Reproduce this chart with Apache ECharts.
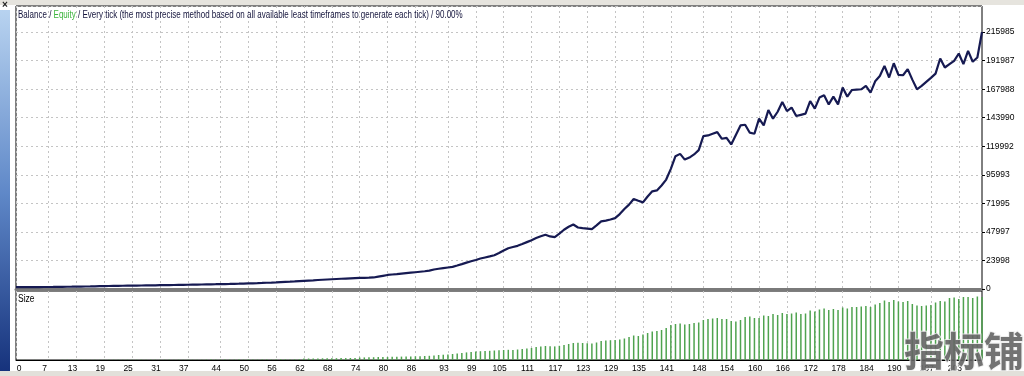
<!DOCTYPE html>
<html>
<head>
<meta charset="utf-8">
<script src="https://cdn.jsdelivr.net/npm/echarts@6/dist/echarts.min.js"></script>
<style>
  html, body { margin: 0; padding: 0; background: #fff; }
  #chart { width: 1024px; height: 376px; }
</style>
</head>
<body>
<div id="chart"></div>
<script>
// balance after each trade
const balance = [
  1500, 1530, 1560, 1580, 1610, 1650, 1680, 1700, 1740, 1790,
  1830, 1880, 1920, 1980, 2050, 2120, 2200, 2290, 2380, 2450,
  2520, 2600, 2660, 2720, 2790, 2850, 2900, 2960, 3010, 3060,
  3120, 3180, 3240, 3300, 3360, 3420, 3480, 3560, 3650, 3720,
  3800, 3870, 3950, 4020, 4100, 4180, 4260, 4350, 4450, 4560,
  4680, 4800, 4930, 5080, 5250, 5420, 5600, 5800, 6000, 6200,
  6420, 6650, 6880, 7100, 7320, 7550, 7780, 8000, 8200, 8400,
  8600, 8800, 9000, 9150, 9300, 9420, 9550, 9700, 10400, 11100,
  11800, 12200, 12500, 12900, 13300, 13700, 14100, 14500, 14900, 15400,
  16400, 17000, 17600, 18100, 18600, 19700, 20900, 22200, 23300, 24400,
  25600, 26500, 27400, 28400, 30200, 32300, 34300, 35300, 36300, 37800,
  39400, 41000, 42800, 44300, 45600, 44200, 43600, 46500, 49800, 52300,
  54200, 51700, 51200, 50800, 50400, 53500, 56800, 57500, 58400, 59600,
  63000, 67200, 70900, 75700, 74200, 72800, 77800, 82100, 82900, 87000,
  92000, 101000, 111600, 113600, 108800, 110500, 113100, 116700, 128500, 129100,
  130500, 131900, 126300, 127100, 121500, 129500, 137500, 138100, 131400, 130500,
  143200, 137500, 150400, 143200, 149000, 157200, 149600, 152500, 145400, 146400,
  147400, 158000, 151600, 160900, 162800, 155200, 161700, 155200, 169300, 161700,
  167300, 167600, 167900, 170700, 165100, 174600, 179100, 187600, 177800, 189800,
  180000, 179700, 184800, 176000, 167900, 170700, 174100, 177500, 181100, 193800,
  186200, 189000, 191800, 198000, 189000, 200200, 191000, 194600, 215985
];

// lot size of each trade
const sizes = [
  0.01, 0.01, 0.01, 0.01, 0.01, 0.01, 0.01, 0.01, 0.01, 0.01,
  0.02, 0.02, 0.02, 0.02, 0.02, 0.02, 0.02, 0.02, 0.02, 0.02, 0.02,
  0.03, 0.03, 0.03, 0.03, 0.03, 0.03, 0.03, 0.03, 0.03, 0.03,
  0.03, 0.03, 0.03, 0.03, 0.03, 0.03, 0.03, 0.03, 0.03, 0.03,
  0.04, 0.04, 0.04, 0.04, 0.04, 0.04, 0.04, 0.04, 0.04, 0.04, 0.04, 0.04, 0.04, 0.04, 0.04,
  0.06, 0.06, 0.06, 0.06, 0.06, 0.06,
  0.15, 0.15, 0.16, 0.16, 0.17, 0.17, 0.18, 0.18, 0.19, 0.19, 0.2, 0.2,
  0.25, 0.26, 0.27, 0.28, 0.29, 0.3, 0.3, 0.32, 0.33, 0.34, 0.35, 0.36, 0.37, 0.38, 0.4, 0.42,
  0.46, 0.5, 0.53, 0.56, 0.6, 0.64, 0.7,
  0.76, 0.8, 0.84, 0.88, 0.9, 0.92, 0.95,
  0.98, 1.0, 1.02, 1.0, 1.05, 1.1, 1.15, 1.2,
  1.3, 1.35, 1.4, 1.38, 1.36, 1.42, 1.5,
  1.6, 1.7, 1.72, 1.7, 1.68, 1.66, 1.75,
  1.9, 1.95, 1.98, 2.0, 2.05, 2.15,
  2.3, 2.45, 2.4,
  2.55, 2.7, 2.85, 2.9, 3.0,
  3.2, 3.5, 3.6, 3.65, 3.55, 3.6, 3.7, 3.75,
  4.0, 4.1, 4.15, 4.2, 4.1, 4.1,
  3.9, 3.85, 4.0,
  4.3, 4.35, 4.2, 4.2, 4.45,
  4.4, 4.6, 4.5, 4.7,
  4.6, 4.65, 4.75, 4.6, 4.65,
  4.95, 4.85, 5.05, 5.15, 5.0,
  5.1, 5.0, 5.25, 5.15, 5.3, 5.3, 5.35, 5.4,
  5.3, 5.55, 5.7,
  5.95, 5.8, 6.0, 5.85, 5.8, 5.9,
  5.6, 5.45, 5.4, 5.45, 5.5,
  5.75, 5.9,
  5.85, 6.2, 6.25, 6.1, 6.3, 6.3, 6.2, 6.35, 6.3
];

const trades = balance.map((v, i) => String(i));
const xTickLabels = [0, 7, 13, 19, 25, 31, 37, 44, 50, 56, 62, 68, 74, 80, 86, 93, 99, 105, 111, 117, 123, 129, 135, 141, 148, 154, 160, 166, 172, 178, 184, 190, 197, 203];
const yTickLabels = ['0', '23998', '47997', '71995', '95993', '119992', '143990', '167988', '191987', '215985'];

const tickSet = new Set(xTickLabels);
const showTick = (idx) => tickSet.has(idx);
const font = "'Liberation Sans', sans-serif";
const gridDash = { color: '#c4c4c4', type: [2, 3], width: 1 };

let chart = echarts.init(document.getElementById('chart'), null, { renderer: 'canvas' });

let option = {
  animation: false,
  backgroundColor: '#fff',
  grid: [
    { left: 16, right: 42, top: 6, height: 283, show: true, borderColor: '#000', borderWidth: 1, backgroundColor: '#fff' },
    { left: 16, right: 42, top: 291, height: 69, show: true, borderColor: '#000', borderWidth: 1, backgroundColor: '#fff' }
  ],
  xAxis: [
    {
      type: 'category', gridIndex: 0, data: trades, boundaryGap: false,
      axisLine: { lineStyle: { color: '#7a7a7a', width: 3 } },
      axisTick: { show: false },
      axisLabel: { show: false },
      splitLine: { show: true, interval: showTick, lineStyle: gridDash }
    },
    {
      type: 'category', gridIndex: 1, data: trades, boundaryGap: false,
      axisLine: { lineStyle: { color: '#000', width: 1 } },
      axisTick: { show: false },
      axisLabel: {
        interval: showTick,
        fontFamily: font, fontSize: 8.5, color: '#000', margin: 4,
        padding: [0, 8, 0, 0],
        formatter: (v) => v === '0' ? '{f|0}' : v,
        rich: { f: { padding: [0, 0, 0, 14], fontFamily: font, fontSize: 8.5, color: '#000' } }
      },
      splitLine: { show: true, interval: showTick, lineStyle: gridDash }
    }
  ],
  yAxis: [
    {
      type: 'value', gridIndex: 0, position: 'right',
      min: 0, max: 237900, interval: 215985 / 9,
      axisLine: { show: false },
      axisTick: { show: true, length: 3, lineStyle: { color: '#000' } },
      axisLabel: {
        showMaxLabel: false, margin: 4,
        fontFamily: font, fontSize: 8.5, color: '#000',
        formatter: (v, i) => yTickLabels[i] || ''
      },
      splitLine: { show: true, lineStyle: gridDash }
    },
    {
      type: 'value', gridIndex: 1, position: 'right',
      min: 0, max: 6.9,
      axisLine: { show: false }, axisTick: { show: false },
      axisLabel: { show: false }, splitLine: { show: false }
    }
  ],
  series: [
    {
      name: 'Balance', type: 'line', xAxisIndex: 0, yAxisIndex: 0,
      data: balance, symbol: 'none',
      lineStyle: { color: '#161a52', width: 2.2 },
      z: 5
    },
    {
      name: 'Size', type: 'bar', xAxisIndex: 1, yAxisIndex: 1,
      data: sizes, barWidth: 1.5,
      itemStyle: { color: '#4fa34f' }
    }
  ],
  graphic: [
    { type: 'rect', shape: { x: 0, y: 0, width: 1024, height: 5 }, style: { fill: '#e6e4de' }, silent: true },
    {
      type: 'rect', shape: { x: 0, y: 10, width: 10, height: 366 },
      style: { fill: new echarts.graphic.LinearGradient(0, 0, 0, 1, [
        { offset: 0, color: '#b8d3f0' }, { offset: 0.5, color: '#5f88c8' }, { offset: 1, color: '#14307a' }
      ]) }, silent: true
    },
    { type: 'text', left: 2, top: 0, style: { text: '×', font: 'bold 10px sans-serif', fill: '#222' } },
    { type: 'text', x: 9, y: 376, rotation: Math.PI / 2, style: { text: 'ter', font: '9px ' + font, fill: '#fff' } },
    { type: 'rect', shape: { x: 0, y: 371, width: 1024, height: 5 }, style: { fill: '#e2e0da' }, silent: true },
    {
      type: 'text', x: 18, y: 10, scaleX: 0.8,
      style: {
        text: '{d|Balance / }{g|Equity}{d| / Every tick (the most precise method based on all available least timeframes to generate each tick) / 90.00%}',
        rich: {
          d: { fontFamily: font, fontSize: 10, fill: '#14143c' },
          g: { fontFamily: font, fontSize: 10, fill: '#3cb43c' }
        }
      },
      z: 10
    },
    { type: 'text', x: 18, y: 294, scaleX: 0.85, style: { text: 'Size', fontFamily: font, fontSize: 10, fill: '#000' }, z: 10 },
    {
      type: 'text', left: 903, top: 330,
      style: { text: '指标铺', font: 'bold 40px "Noto Sans CJK SC"', fill: 'rgba(100,100,100,0.9)', stroke: 'rgba(235,235,235,0.8)', lineWidth: 2 },
      z: 20
    }
  ]
};

chart.setOption(option);
</script>
</body>
</html>
